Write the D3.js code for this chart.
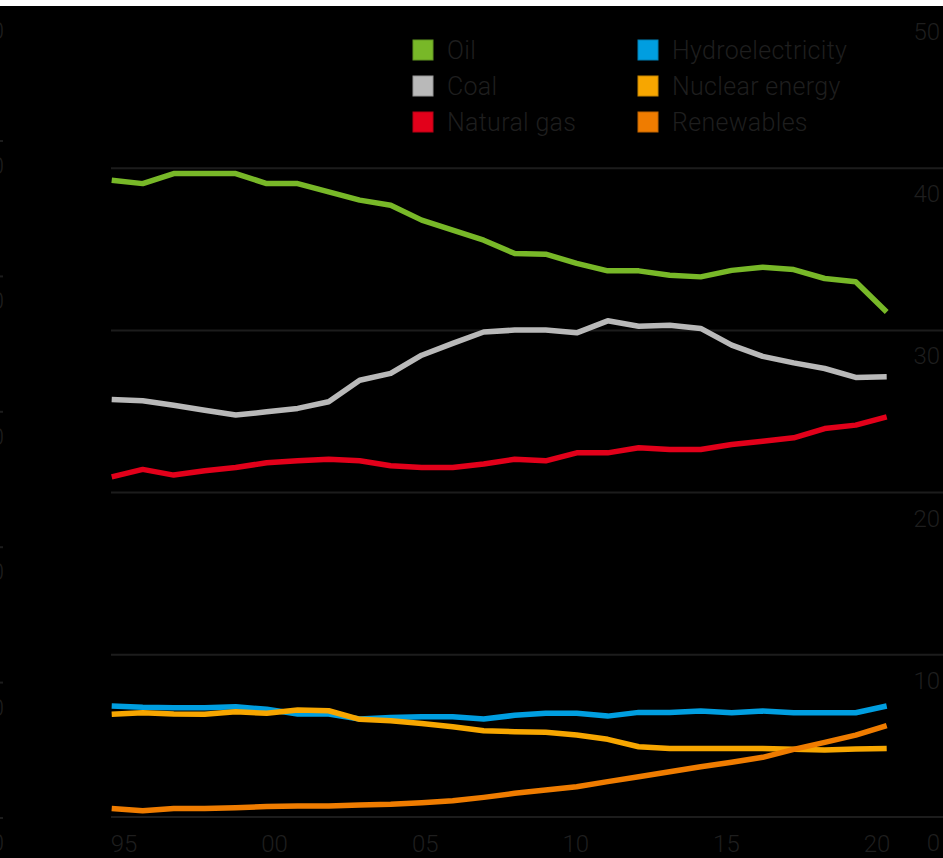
<!DOCTYPE html>
<html>
<head>
<meta charset="utf-8">
<script src="https://cdn.jsdelivr.net/npm/d3@7"></script>
<style>
  html, body { margin: 0; padding: 0; background: #ffffff; }
  svg { display: block; }
  text { font-family: Roboto, "Noto Sans", sans-serif; font-weight: 300; }
</style>
</head>
<body>
<div id="chart"></div>
<script>
// ---- data ----
const years = d3.range(1995, 2021);
const oil = [39.26, 39.05, 39.67, 39.67, 39.67, 39.05, 39.05, 38.54, 38.03, 37.72, 36.8, 36.18, 35.56, 34.74, 34.7, 34.13, 33.67, 33.67, 33.4, 33.3, 33.7, 33.9, 33.75, 33.2, 33.0, 31.14];
const coal = [25.74, 25.66, 25.39, 25.08, 24.78, 24.98, 25.19, 25.6, 26.93, 27.35, 28.47, 29.2, 29.9, 30.02, 30.02, 29.85, 30.59, 30.26, 30.32, 30.12, 29.09, 28.4, 28.0, 27.65, 27.1, 27.14];
const naturalGas = [20.97, 21.43, 21.08, 21.35, 21.55, 21.84, 21.96, 22.06, 21.96, 21.65, 21.55, 21.55, 21.76, 22.06, 21.96, 22.45, 22.45, 22.76, 22.66, 22.66, 22.97, 23.17, 23.38, 23.95, 24.16, 24.67];
const hydro = [6.84, 6.76, 6.74, 6.74, 6.8, 6.64, 6.35, 6.35, 6.04, 6.14, 6.18, 6.18, 6.04, 6.27, 6.39, 6.39, 6.22, 6.45, 6.45, 6.53, 6.43, 6.53, 6.43, 6.43, 6.43, 6.84];
const nuclear = [6.33, 6.43, 6.35, 6.33, 6.49, 6.39, 6.6, 6.55, 6.02, 5.94, 5.77, 5.57, 5.32, 5.26, 5.22, 5.05, 4.79, 4.33, 4.23, 4.23, 4.23, 4.23, 4.17, 4.13, 4.19, 4.23];
const renewables = [0.53, 0.39, 0.53, 0.53, 0.57, 0.64, 0.68, 0.68, 0.74, 0.78, 0.88, 1.0, 1.21, 1.46, 1.66, 1.87, 2.18, 2.48, 2.79, 3.1, 3.37, 3.68, 4.17, 4.6, 5.05, 5.63];

const seriesNames = ["Oil", "Coal", "Natural gas", "Hydroelectricity", "Nuclear energy", "Renewables"];
const seriesColors = ["#78b828", "#b9b9b9", "#e2001a", "#009ee0", "#f7a600", "#ef7c00"];
const seriesValues = [oil, coal, naturalGas, hydro, nuclear, renewables];
const drawOrder = [0, 1, 2, 3, 4, 5];

const yTicks = [0, 10, 20, 30, 40, 50];
const xTickYears = [1995, 2000, 2005, 2010, 2015, 2020];
const xTickLabels = ["95", "00", "05", "10", "15", "20"];
const leftStubTicks = [0, 1, 2, 3, 4, 5, 6];

// ---- layout ----
const W = 943, H = 858;
const textColor = "#1e1e1e";
const gridColor = "#1c1c1c";

const svg = d3.select("#chart").append("svg").attr("width", W).attr("height", H);
svg.append("rect").attr("x", 0).attr("y", 6).attr("width", W).attr("height", H - 6).attr("fill", "#000");

const x = d3.scaleLinear().domain([1995, 2020]).range([111.7, 886.7]);
const xLab = d3.scaleLinear().domain([1995, 2020]).range([124, 877]);
const y = d3.scaleLinear().domain([0, 50]).range([817, 6]);
const yStub = d3.scaleLinear().domain([0, 6]).range([818, 5.6]);

// gridlines
const grid = svg.append("g");
grid.selectAll("line").data(yTicks.filter(v => v < 50)).join("line")
  .attr("x1", 111).attr("x2", W)
  .attr("y1", d => y(d)).attr("y2", d => y(d))
  .attr("stroke", gridColor).attr("stroke-width", 2);

// right y labels
svg.append("g").selectAll("text").data(yTicks).join("text")
  .attr("x", 940).attr("y", d => d === 0 ? 851 : y(d) + 34)
  .attr("text-anchor", "end")
  .attr("font-size", 24)
  .attr("fill", textColor)
  .text(d => d);

// x labels
svg.append("g").selectAll("text").data(xTickYears).join("text")
  .attr("x", d => xLab(d)).attr("y", 852)
  .attr("text-anchor", "middle")
  .attr("font-size", 24)
  .attr("fill", textColor)
  .text((d, i) => xTickLabels[i]);

// stub of neighbouring panel at left edge (cut off in the original too)
svg.append("g").selectAll("line").data(leftStubTicks.slice(0, 6)).join("line")
  .attr("x1", 0).attr("x2", 3)
  .attr("y1", d => yStub(d)).attr("y2", d => yStub(d))
  .attr("stroke", gridColor).attr("stroke-width", 2);
svg.append("g").selectAll("text").data(leftStubTicks).join("text")
  .attr("x", 4).attr("y", d => yStub(d) + 33)
  .attr("text-anchor", "end")
  .attr("font-size", 24)
  .attr("fill", textColor)
  .text("0");

// lines
const line = d3.line().x((d, i) => x(years[i])).y(d => y(d));
svg.append("g").selectAll("path").data(drawOrder).join("path")
  .attr("d", i => line(seriesValues[i]))
  .attr("fill", "none")
  .attr("stroke", i => seriesColors[i])
  .attr("stroke-width", 5.5)
  .attr("stroke-linejoin", "round");

// legend
const legend = svg.append("g");
const legItems = legend.selectAll("g").data(seriesNames).join("g")
  .attr("transform", (d, i) => `translate(${i < 3 ? 413 : 638},${40 + (i % 3) * 36})`);
legItems.append("rect")
  .attr("width", 20).attr("height", 20)
  .attr("fill", (d, i) => seriesColors[i])
  .attr("stroke", (d, i) => d3.color(seriesColors[i]).darker(0.6))
  .attr("stroke-width", 1);
legItems.append("text")
  .attr("x", 34).attr("y", 19)
  .attr("font-size", 25)
  .attr("letter-spacing", 0.3)
  .attr("fill", textColor)
  .text(d => d);
</script>
</body>
</html>
